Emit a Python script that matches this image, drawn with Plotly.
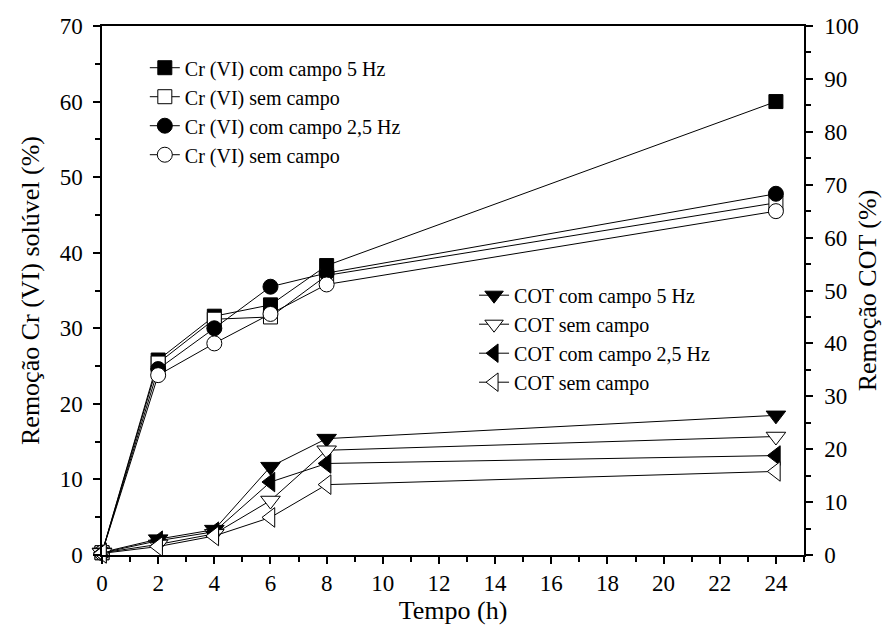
import plotly.graph_objects as go

# Sampling times (h)
tempo = [0, 2, 4, 6, 8, 24]

# Soluble Cr(VI) removal (%), left axis
cr_5hz = [0.3, 25.8, 31.6, 33.1, 38.3, 60.0]
cr_sem_a = [0.3, 25.4, 31.2, 31.5, 37.0, 46.6]
cr_25hz = [0.3, 24.6, 30.0, 35.5, 37.3, 47.8]
cr_sem_b = [0.3, 23.8, 28.0, 31.9, 35.8, 45.5]

# TOC (COT) removal (%), right axis
cot_5hz = [0.5, 3.0, 4.8, 16.7, 22.0, 26.4]
cot_sem_a = [0.4, 2.0, 4.0, 10.3, 19.8, 22.4]
cot_25hz = [0.4, 2.7, 4.4, 13.8, 17.3, 18.8]
cot_sem_b = [0.3, 1.6, 3.6, 7.1, 13.3, 15.8]

FONT = "Liberation Serif, Times New Roman, serif"
BLACK = "black"
WHITE = "white"

cr_series = [
    ("Cr (VI) com campo 5 Hz", cr_5hz, "square", BLACK, 14),
    ("Cr (VI) sem campo", cr_sem_a, "square", WHITE, 14),
    ("Cr (VI) com campo 2,5 Hz", cr_25hz, "circle", BLACK, 15),
    ("Cr (VI) sem campo", cr_sem_b, "circle", WHITE, 15),
]
cot_series = [
    ("COT com campo 5 Hz", cot_5hz, "triangle-down", BLACK, 17),
    ("COT sem campo", cot_sem_a, "triangle-down", WHITE, 17),
    ("COT com campo 2,5 Hz", cot_25hz, "triangle-left", BLACK, 17),
    ("COT sem campo", cot_sem_b, "triangle-left", WHITE, 17),
]

fig = go.Figure()

for name, vals, sym, fill, size in cr_series:
    fig.add_trace(go.Scatter(
        x=tempo, y=vals, name=name, mode="lines+markers",
        line=dict(color=BLACK, width=1),
        marker=dict(symbol=sym, size=size, color=fill,
                    line=dict(color=BLACK, width=1)),
        cliponaxis=False, legend="legend", yaxis="y",
    ))

for name, vals, sym, fill, size in cot_series:
    fig.add_trace(go.Scatter(
        x=tempo, y=vals, name=name, mode="lines+markers",
        line=dict(color=BLACK, width=1),
        marker=dict(symbol=sym, size=size, color=fill,
                    line=dict(color=BLACK, width=1)),
        cliponaxis=False, legend="legend2", yaxis="y2",
    ))

TICKFONT = dict(family=FONT, size=23, color=BLACK)
TITLEFONT = dict(family=FONT, size=26, color=BLACK)

axis_common = dict(
    showgrid=False, zeroline=False, showline=True, linecolor=BLACK,
    linewidth=1.5, ticks="outside", ticklen=7, tickwidth=1.5,
    tickcolor=BLACK, tickfont=TICKFONT, automargin=False,
)

fig.update_layout(
    width=882, height=642,
    margin=dict(l=102, r=78, t=26, b=87),
    paper_bgcolor=WHITE, plot_bgcolor=WHITE,
    font=dict(family=FONT, color=BLACK),
    xaxis=dict(
        range=[0, 25], tick0=0, dtick=2, mirror=True,
        minor=dict(dtick=1, ticks="outside", ticklen=5, tickwidth=1.5, tickcolor=BLACK),
        title=dict(text="Tempo (h)", font=TITLEFONT, standoff=2),
        **axis_common,
    ),
    yaxis=dict(
        range=[0, 70], tick0=0, dtick=10, ticklabelstandoff=6,
        minor=dict(dtick=5, ticks="outside", ticklen=5, tickwidth=1.5, tickcolor=BLACK),
        title=dict(text="Remoção Cr (VI) solúvel (%)", font=TITLEFONT, standoff=13),
        **axis_common,
    ),
    yaxis2=dict(
        range=[0, 100], tick0=0, dtick=10, overlaying="y", side="right",
        ticklabelstandoff=7,
        minor=dict(dtick=5, ticks="outside", ticklen=5, tickwidth=1.5, tickcolor=BLACK),
        title=dict(text="Remoção COT (%)", font=TITLEFONT, standoff=3),
        **axis_common,
    ),
    legend=dict(
        x=0.061, y=0.958, xanchor="left", yanchor="top",
        bgcolor="rgba(0,0,0,0)", borderwidth=0, traceorder="normal",
        font=dict(family=FONT, size=20, color=BLACK),
    ),
    legend2=dict(
        x=0.530, y=0.528, xanchor="left", yanchor="top",
        bgcolor="rgba(0,0,0,0)", borderwidth=0, traceorder="normal",
        font=dict(family=FONT, size=20, color=BLACK),
    ),
    showlegend=True,
)

fig.write_html("out.html")
